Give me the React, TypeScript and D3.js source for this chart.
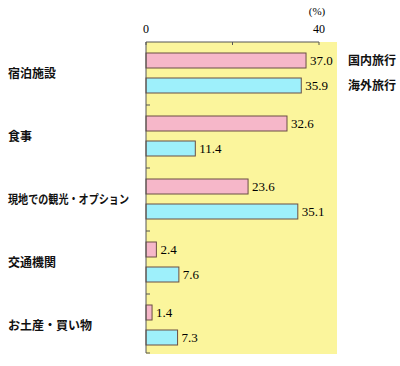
import * as d3 from "d3";
import React from "react";
import { useRef, useEffect } from "react";

// chart data
const categories = ["宿泊施設", "食事", "現地での観光・オプション", "交通機関", "お土産・買い物"];
const domestic = [37.0, 32.6, 23.6, 2.4, 1.4];
const overseas = [35.9, 11.4, 35.1, 7.6, 7.3];
const seriesNames = ["国内旅行", "海外旅行"];
const tickValues = [0, 40];

export default function App() {
  const ref = useRef<SVGSVGElement>(null);

  useEffect(() => {
    const svg = d3.select(ref.current);
    svg.selectAll("*").remove();

    const left = 146;
    const top = 42;
    const bandH = 63;

    const x = d3.scaleLinear().domain([0, 40]).range([left, 319]);
    const y = d3.scaleBand<number>()
      .domain(d3.range(categories.length))
      .range([top, top + bandH * categories.length])
      .padding(0);

    // yellow plot background
    svg.append("rect")
      .attr("x", left)
      .attr("y", top)
      .attr("width", 337 - left)
      .attr("height", 354 - top)
      .attr("fill", "#fbf59c");

    const barColors = ["#f6b7c9", "#9ef0fb"];
    const offsets = [11, 36];
    const barH = 15;

    categories.forEach((cat, i) => {
      const y0 = y(i)!;
      [domestic[i], overseas[i]].forEach((v, s) => {
        const by = y0 + offsets[s];
        svg.append("rect")
          .attr("x", x(0))
          .attr("y", by)
          .attr("width", x(v) - x(0))
          .attr("height", barH)
          .attr("fill", barColors[s])
          .attr("stroke", "#6a4e44")
          .attr("stroke-width", 1);
        svg.append("text")
          .attr("x", x(v) + 4)
          .attr("y", by + barH / 2)
          .attr("dy", "0.36em")
          .attr("font-family", "Liberation Serif, serif")
          .attr("font-size", 13)
          .attr("fill", "#000")
          .text(v.toFixed(1));
      });
      const label = svg.append("text")
        .attr("x", 8)
        .attr("y", y0 + bandH / 2)
        .attr("dy", "0.36em")
        .attr("font-family", "Noto Sans CJK JP")
        .attr("font-size", 12)
        .attr("font-weight", 700)
        .attr("fill", "#111")
        .text(cat);
      // long label is set tighter in the original
      if (cat.length > 8) {
        label.attr("textLength", 121).attr("lengthAdjust", "spacingAndGlyphs");
      }
    });

    // legend next to first group
    seriesNames.forEach((name, s) => {
      svg.append("text")
        .attr("x", 348)
        .attr("y", y(0)! + offsets[s] + barH / 2)
        .attr("dy", "0.36em")
        .attr("font-family", "Noto Sans CJK JP")
        .attr("font-size", 12)
        .attr("font-weight", 700)
        .attr("fill", "#111")
        .text(name);
    });

    // top axis
    const axisColor = "#555";
    svg.append("line")
      .attr("x1", x(0)).attr("x2", x(40))
      .attr("y1", top).attr("y2", top)
      .attr("stroke", axisColor);
    [0, 20, 40].forEach((t) => {
      svg.append("line")
        .attr("x1", x(t)).attr("x2", x(t))
        .attr("y1", top).attr("y2", top + 3)
        .attr("stroke", axisColor);
    });
    tickValues.forEach((t) => {
      svg.append("text")
        .attr("x", x(t))
        .attr("y", 29)
        .attr("dy", "0.36em")
        .attr("text-anchor", "middle")
        .attr("font-family", "Liberation Serif, serif")
        .attr("font-size", 12)
        .attr("fill", "#000")
        .text(t);
    });
    svg.append("text")
      .attr("x", x(40) - 2)
      .attr("y", 11)
      .attr("dy", "0.36em")
      .attr("text-anchor", "middle")
      .attr("font-family", "Liberation Serif, serif")
      .attr("font-size", 11)
      .attr("fill", "#000")
      .text("(%)");

    // left axis
    svg.append("line")
      .attr("x1", left).attr("x2", left)
      .attr("y1", top).attr("y2", top + bandH * categories.length - 4)
      .attr("stroke", axisColor);
    d3.range(1, categories.length + 1).forEach((i) => {
      const ty = top + bandH * i - (i === categories.length ? 4 : 0);
      svg.append("line")
        .attr("x1", left).attr("x2", left + 4)
        .attr("y1", ty).attr("y2", ty)
        .attr("stroke", axisColor);
    });
  }, []);

  return (
    <svg
      ref={ref}
      width={400}
      height={366}
      style={{ position: "absolute", left: 0, top: 0, background: "#fff" }}
    />
  );
}
